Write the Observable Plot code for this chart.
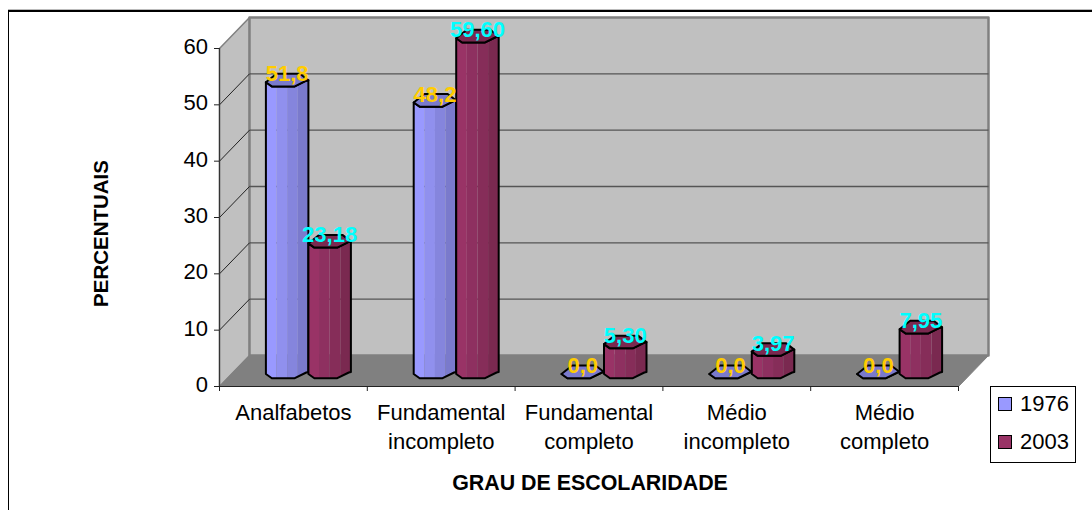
<!DOCTYPE html>
<html><head><meta charset="utf-8">
<script src="https://cdn.jsdelivr.net/npm/d3@7"></script>
<script src="https://cdn.jsdelivr.net/npm/@observablehq/plot@0.6"></script>
<style>
html,body{margin:0;padding:0;background:#fff;overflow:hidden}
#wrap{position:relative;width:1092px;height:510px;font-family:"Liberation Sans",Arial,sans-serif}
#frame{position:absolute;left:8px;top:10px;right:0;bottom:0;border-top:2px solid #000;border-left:1px solid #000;box-shadow:0 -1px 0 #bbb}
#legend{position:absolute;left:990px;top:386px;width:86px;height:77px;box-sizing:border-box;border:1px solid #000;background:#fff;font-size:22px;color:#000}
#legend div{position:absolute;left:7px;display:flex;align-items:center;gap:8px;line-height:24px}
#legend i{display:block;width:12px;height:12px;border:1.5px solid #000}
svg{position:absolute;left:0;top:0}
</style></head><body><div id="wrap"><div id="frame"></div></div>
<script>
const categories = ["Analfabetos", "Fundamental\nincompleto", "Fundamental\ncompleto", "Médio\nincompleto", "Médio\ncompleto"];
const values1976 = [51.8, 48.2, 0, 0, 0];
const values2003 = [23.18, 59.60, 5.30, 3.97, 7.95];
const yTicks = [0, 10, 20, 30, 40, 50, 60];
const series = ["1976", "2003"];
const stripes1976 = ["#9999ff", "#9090ee", "#8585dd", "#7a7acc"];
const stripes2003 = ["#993366", "#8e3060", "#862d59", "#7a2950"];
const labelColors = ["#ffcc00", "#00ffff"];

const pxX = 147.8, pxY = 5.633;               // px per x / y unit
const dX = 30 / pxX, dY = 31 / pxY;           // chart depth in data units
const barW = 42.5 / pxX;
const front = [[0,3],[.14,7.2],[.68,7.2],[.95,1.5],[1,1]];
const back  = [[1,1],[.8,-5.5],[.25,-5.5],[0,3]];
const fAt = f => { for (let i=1;i<front.length;i++){ if (f<=front[i][0]) { const [a,b]=front[i-1],[c,e]=front[i]; return b+(e-b)*(f-a)/(c-a);} } return 1; };

function barMarks(i, value, side, cols) {
  const x0 = i + .5 + dX/2 + (side === 0 ? -barW : 0);
  const yb = dY/2, yt = value + dY/2;
  const X = f => x0 + f*barW;
  const Yo = (base, off) => base - off/pxY;
  const marks = [];
  const breaks = [0,.25,.5,.75,1];
  cols.forEach((c,k) => {
    const a = breaks[k], b = breaks[k+1];
    const fs = [a, ...front.map(d=>d[0]).filter(f=>f>a&&f<b), b];
    const pts = [...fs.map(f=>({x:X(f),y:Yo(yt,fAt(f))})), ...fs.slice().reverse().map(f=>({x:X(f),y:Yo(yb,fAt(f))}))];
    marks.push(Plot.line(pts,{x:"x",y:"y",fill:c,stroke:"none"}));
  });
  const outline = [...front.map(([f,o])=>({x:X(f),y:Yo(yt,o)})), ...front.slice().reverse().map(([f,o])=>({x:X(f),y:Yo(yb,o)}))];
  outline.push(outline[0]);
  marks.push(Plot.line(outline,{x:"x",y:"y",stroke:"#000",strokeWidth:2,strokeLinejoin:"round"}));
  const top = [...front, ...back.slice(1)].map(([f,o])=>({x:X(f),y:Yo(yt,o)}));
  top.push(top[0]);
  marks.push(Plot.line(top,{x:"x",y:"y",fill:cols[3],stroke:"#000",strokeWidth:2,strokeLinejoin:"round"}));
  return marks;
}

const wall = [{x:dX,y:dY},{x:5+dX,y:dY},{x:5+dX,y:60+dY},{x:dX,y:60+dY},{x:dX,y:dY}];
const side = [{x:0,y:0},{x:dX,y:dY},{x:dX,y:60+dY},{x:0,y:60},{x:0,y:0}];
const floor = [{x:0,y:0},{x:dX,y:dY},{x:5+dX,y:dY},{x:5,y:0},{x:0,y:0}];
const bars = categories.flatMap((_,i)=>[...barMarks(i,values1976[i],0,stripes1976),...barMarks(i,values2003[i],1,stripes2003)]);
const fmt1 = v => v.toFixed(1).replace(".",",");
const fmt2 = v => v.toFixed(2).replace(".",",");
const xc = (i,s) => i+.5+dX/2+(s===0?-barW/2:barW/2);

const chart = Plot.plot({
  width:1092,height:510,
  marginLeft:219,marginRight:134,marginTop:48,marginBottom:124,
  style:{fontFamily:"'Liberation Sans',Arial,sans-serif",background:"transparent",overflow:"visible"},
  x:{type:"linear",domain:[0,5],axis:null},
  y:{type:"linear",domain:[0,60],axis:null},
  marks:[
    Plot.line(side,{x:"x",y:"y",fill:"#c0c0c0",stroke:"#808080",strokeWidth:1.5}),
    Plot.line(wall,{x:"x",y:"y",fill:"#c0c0c0",stroke:"#808080",strokeWidth:2.5}),
    Plot.line(floor,{x:"x",y:"y",fill:"#808080",stroke:"#808080",strokeWidth:1}),
    Plot.link(yTicks.slice(1,-1),{x1:()=>dX,x2:()=>5+dX,y1:d=>d+dY,y2:d=>d+dY,stroke:"#555",strokeWidth:1.4}),
    Plot.link(yTicks.slice(1,-1),{x1:()=>0,x2:()=>dX,y1:d=>d,y2:d=>d+dY,stroke:"#222",strokeWidth:1}),
    Plot.ruleX([0],{y1:0,y2:60,stroke:"#333",strokeWidth:1.2}),
    Plot.ruleY([0],{x1:0,x2:5,stroke:"#222",strokeWidth:1.2}),
    Plot.axisY({ticks:yTicks,tickSize:5,tickFormat:()=>"",label:null,stroke:"#222"}),
    Plot.axisY({ticks:yTicks,tickSize:0,tickPadding:11.5,dy:-1.5,fontSize:22,label:null,fill:"#000"}),
    Plot.axisX({ticks:d3.range(6),tickSize:5,tickFormat:()=>"",label:null,stroke:"#222"}),
    ...bars,
    Plot.text(categories,{x:(d,i)=>i+.5,y:()=>0,dy:13,lineAnchor:"top",lineHeight:1.32,fontSize:22,fill:"#000",textAnchor:"middle"}),
    Plot.text(values1976,{x:(d,i)=>xc(i,0),y:d=>d+dY/2,dy:-5,text:fmt1,fontSize:22,fontWeight:"bold",fill:labelColors[0]}),
    Plot.text(values2003,{x:(d,i)=>xc(i,1),y:d=>d+dY/2,dy:-5,text:fmt2,fontSize:22,fontWeight:"bold",fill:labelColors[1]}),
    Plot.text(["PERCENTUAIS"],{frameAnchor:"left",dx:-118,dy:16,rotate:-90,fontSize:20.5,fontWeight:"bold",fill:"#000",textAnchor:"middle"}),
    Plot.text(["GRAU DE ESCOLARIDADE"],{frameAnchor:"bottom",dy:103,dx:1,fontSize:21.4,fontWeight:"bold",fill:"#000"})
  ]
});
const wrap = document.getElementById("wrap");
wrap.appendChild(chart);
const lg = document.createElement("div"); lg.id="legend";
series.forEach((s,i)=>{
  const r=document.createElement("div"); r.style.top=(i===0?5:43)+"px";
  const sw=document.createElement("i"); sw.style.background=(i===0?stripes1976:stripes2003)[0];
  r.appendChild(sw); r.appendChild(document.createTextNode(s)); lg.appendChild(r);
});
wrap.appendChild(lg);
</script></body></html>
